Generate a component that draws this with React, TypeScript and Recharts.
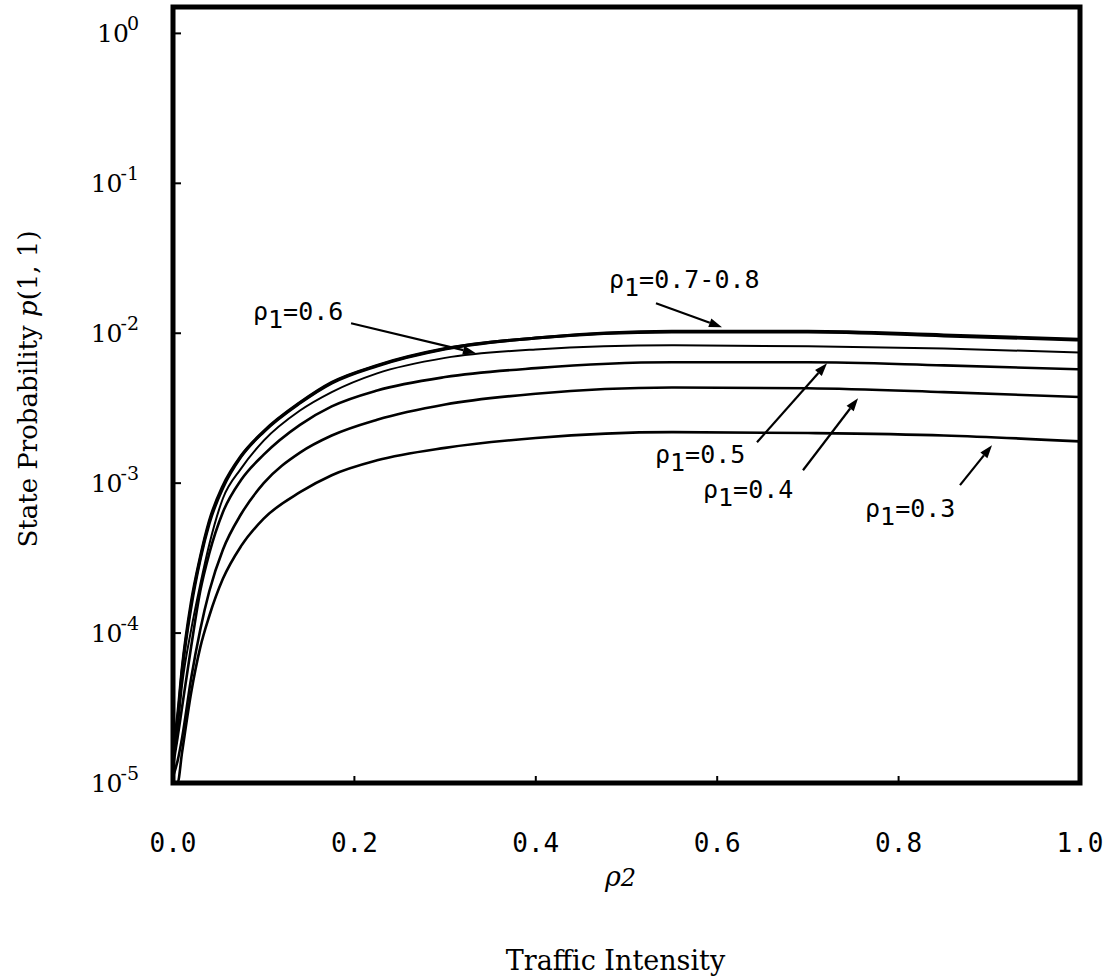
import { LineChart, Line, XAxis, YAxis, ReferenceArea, ReferenceLine, ReferenceDot } from "recharts";

// traffic intensity rho2 (x) and state probability p(1,1) per rho1 curve
const RHO2 = [0, 0.005, 0.01, 0.02, 0.03, 0.04, 0.055, 0.075, 0.1, 0.14, 0.175, 0.225, 0.3, 0.4, 0.55, 0.7, 0.85, 1.0];
const P_03 = [1.0e-5, 1.0e-5, 1.6e-5, 4.0e-5, 8.0e-5, 1.3e-4, 2.3e-4, 3.8e-4, 5.8e-4, 8.7e-4, 1.13e-3, 1.42e-3, 1.72e-3, 2.0e-3, 2.19e-3, 2.16e-3, 2.08e-3, 1.9e-3];
const P_04 = [1.1e-5, 1.4e-5, 2.0e-5, 5.0e-5, 1.05e-4, 1.9e-4, 3.6e-4, 6.2e-4, 1.0e-3, 1.6e-3, 2.08e-3, 2.65e-3, 3.35e-3, 3.95e-3, 4.35e-3, 4.3e-3, 4.05e-3, 3.75e-3];
const P_05 = [1.3e-5, 2.0e-5, 3.2e-5, 8.1e-5, 1.9e-4, 3.4e-4, 6.4e-4, 1.05e-3, 1.55e-3, 2.45e-3, 3.25e-3, 4.15e-3, 5.1e-3, 5.85e-3, 6.4e-3, 6.4e-3, 6.1e-3, 5.75e-3];
const P_06 = [1.5e-5, 2.3e-5, 4.5e-5, 1.05e-4, 2.1e-4, 3.9e-4, 7.9e-4, 1.25e-3, 1.92e-3, 3.05e-3, 4.05e-3, 5.4e-3, 6.85e-3, 7.8e-3, 8.3e-3, 8.2e-3, 7.9e-3, 7.45e-3];
const P_07 = [1.7e-5, 2.8e-5, 5.8e-5, 1.6e-4, 3.2e-4, 5.6e-4, 9.6e-4, 1.52e-3, 2.22e-3, 3.45e-3, 4.7e-3, 6.1e-3, 7.9e-3, 9.3e-3, 1.02e-2, 1.02e-2, 9.6e-3, 9.0e-3];
const P_08 = [1.6e-5, 2.6e-5, 5.5e-5, 1.5e-4, 3.1e-4, 5.4e-4, 9.3e-4, 1.5e-3, 2.2e-3, 3.42e-3, 4.65e-3, 6.05e-3, 7.85e-3, 9.3e-3, 1.03e-2, 1.03e-2, 9.75e-3, 9.1e-3];

const X_TICKS = [0, 0.2, 0.4, 0.6, 0.8, 1.0];
const Y_TICKS = [1e-5, 1e-4, 1e-3, 1e-2, 1e-1, 1];

// annotation labels and arrows, in data units
const NOTE_LABELS = ["0.7-0.8", "0.6", "0.5", "0.4", "0.3"];
const NOTE_TEXT_AT = [[0.4807, 0.01995], [0.0882, 0.01221], [0.5314, 1.36e-3], [0.5843, 7.94e-4], [0.763, 5.93e-4]];
const NOTE_FROM = [[0.5325, 0.01585], [0.1963, 0.01166], [0.6439, 1.876e-3], [0.6946, 1.22e-3], [0.8677, 9.7e-4]];
const NOTE_TO = [[0.6053, 0.01096], [0.334, 7.36e-3], [0.7211, 6.31e-3], [0.7553, 3.69e-3], [0.903, 1.79e-3]];

const data = RHO2.map((x, i) => ({
  x, p03: P_03[i], p04: P_04[i], p05: P_05[i], p06: P_06[i], p07: P_07[i], p08: P_08[i],
}));

const SERIF = "DejaVu Serif";
const MONO = "DejaVu Sans Mono";

function YTick({ x, y, payload }: any) {
  const e = Math.round(Math.log10(payload.value));
  return (
    <g>
      <line x1={x} y1={y} x2={x + 8} y2={y} stroke="#000" strokeWidth={2} />
      <text x={x - 34} y={y + 9} textAnchor="end" fontFamily={SERIF} fontSize={25} fill="#000">
        10<tspan dx={-2} dy={-12} fontSize={19}>{e < 0 ? "-" : ""}{Math.abs(e)}</tspan>
      </text>
    </g>
  );
}

function XTick({ x, y, payload }: any) {
  return (
    <g>
      <line x1={x} y1={y} x2={x} y2={y - 7} stroke="#000" strokeWidth={2} />
      <text x={x} y={y + 69} textAnchor="middle" fontFamily={MONO} fontSize={26} fill="#000">
        {payload.value.toFixed(1)}
      </text>
    </g>
  );
}

function XTitle(props: any) {
  const vb = props.viewBox || {};
  const left = vb.x ?? 173;
  const top = vb.y ?? 783;
  const cx = left + (vb.width ?? 907) / 2;
  return (
    <g>
      <text x={cx - 6} y={top + 103} textAnchor="middle" fontFamily={SERIF} fontStyle="italic" fontSize={27} fill="#000">
        ρ<tspan fontSize={24}>2</tspan>
      </text>
      <text x={cx - 11} y={top + 187} textAnchor="middle" fontFamily={SERIF} fontSize={27} fill="#000">
        Traffic Intensity
      </text>
    </g>
  );
}

function YTitle(props: any) {
  const vb = props.viewBox || {};
  const cy = (vb.y ?? 7) + 382;
  return (
    <text x={37} y={cy} transform={`rotate(-90 37 ${cy})`} textAnchor="middle" fontFamily={SERIF} fontSize={26} fill="#000">
      State Probability <tspan fontStyle="italic">p</tspan>(1, 1)
    </text>
  );
}

function Arrow(props: any) {
  const { x1, y1, x2, y2 } = props;
  const a = Math.atan2(y2 - y1, x2 - x1);
  const len = 13;
  const w = 4.5;
  const bx = x2 - len * Math.cos(a);
  const by = y2 - len * Math.sin(a);
  const px = -Math.sin(a) * w;
  const py = Math.cos(a) * w;
  return (
    <g>
      <line x1={x1} y1={y1} x2={bx} y2={by} stroke="#000" strokeWidth={2.2} />
      <polygon points={`${x2},${y2} ${bx + px},${by + py} ${bx - px},${by - py}`} fill="#000" />
    </g>
  );
}

function NoteText(label: string) {
  return (props: any) => (
    <text x={props.cx} y={props.cy} fontFamily={MONO} fontSize={25} fill="#000">
      ρ<tspan dy={8}>1</tspan><tspan dy={-8}>={label}</tspan>
    </text>
  );
}

export default function App() {
  return (
    <div style={{ position: "absolute", left: 0, top: 0, background: "#fff" }}>
      <LineChart width={1109} height={980} data={data} margin={{ top: 7, right: 29, bottom: 0, left: 0 }}>
        <XAxis
          dataKey="x" type="number" domain={[0, 1]} ticks={X_TICKS} interval={0}
          axisLine={false} tickLine={false} tickSize={0} tickMargin={0} height={197}
          tick={<XTick />} label={(p: any) => <XTitle {...p} />}
        />
        <YAxis
          type="number" scale="log" domain={[1e-5, 1.5]} ticks={Y_TICKS} interval={0}
          axisLine={false} tickLine={false} tickSize={0} tickMargin={0} width={173}
          tick={<YTick />} label={(p: any) => <YTitle {...p} />}
        />
        <Line type="monotone" dataKey="p03" stroke="#000" strokeWidth={2.6} dot={false} isAnimationActive={false} />
        <Line type="monotone" dataKey="p04" stroke="#000" strokeWidth={2.6} dot={false} isAnimationActive={false} />
        <Line type="monotone" dataKey="p05" stroke="#000" strokeWidth={2.6} dot={false} isAnimationActive={false} />
        <Line type="monotone" dataKey="p06" stroke="#000" strokeWidth={2} dot={false} isAnimationActive={false} />
        <Line type="monotone" dataKey="p07" stroke="#000" strokeWidth={3} dot={false} isAnimationActive={false} />
        <Line type="monotone" dataKey="p08" stroke="#000" strokeWidth={3} dot={false} isAnimationActive={false} />
        {NOTE_LABELS.map((label, i) => (
          <ReferenceLine
            key={`a${i}`}
            segment={[{ x: NOTE_FROM[i][0], y: NOTE_FROM[i][1] }, { x: NOTE_TO[i][0], y: NOTE_TO[i][1] }]}
            stroke="#000"
            shape={Arrow}
          />
        ))}
        {NOTE_LABELS.map((label, i) => (
          <ReferenceDot key={`t${i}`} x={NOTE_TEXT_AT[i][0]} y={NOTE_TEXT_AT[i][1]} r={1} shape={NoteText(label)} />
        ))}
        <ReferenceArea x1={0} x2={1} y1={1e-5} y2={1.5} fill="none" stroke="#000" strokeWidth={5} />
      </LineChart>
    </div>
  );
}
